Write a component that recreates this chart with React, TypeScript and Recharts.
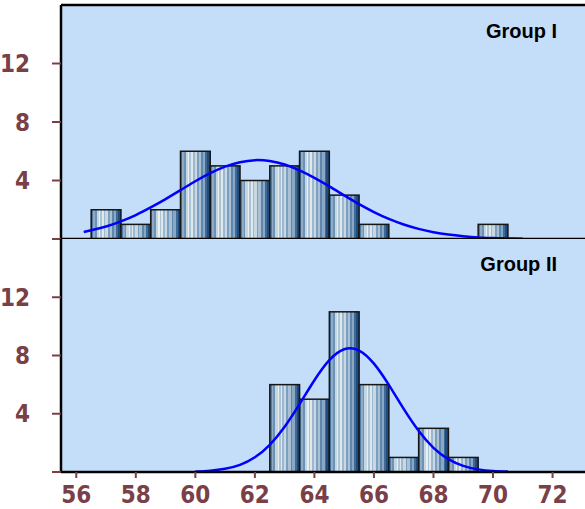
import React from 'react';
import { ComposedChart, Bar, Line, XAxis, YAxis, ReferenceArea, ReferenceLine } from 'recharts';

const bins = [56, 57, 58, 59, 60, 61, 62, 63, 64, 65, 66, 67, 68, 69, 70, 71, 72];
const groupICounts = [0, 2, 1, 2, 6, 5, 4, 5, 6, 3, 1, 0, 0, 0, 1, 0, 0];
const groupIICounts = [0, 0, 0, 0, 0, 0, 0, 6, 5, 11, 6, 1, 3, 1, 0, 0, 0];

// fitted curves
const curveIX = [56.25, 57, 57.5, 58, 58.5, 59, 59.5, 60, 60.5, 61, 61.5, 62, 62.5, 63, 63.5, 64, 64.5, 65, 65.5, 66, 66.5, 67, 67.5, 68, 68.5, 69, 69.5, 70, 70.5, 71];
const curveIY = [0.48, 0.86, 1.21, 1.64, 2.16, 2.73, 3.34, 3.95, 4.5, 4.95, 5.25, 5.39, 5.33, 5.09, 4.69, 4.18, 3.6, 2.98, 2.38, 1.84, 1.37, 0.99, 0.69, 0.46, 0.3, 0.19, 0.11, 0.07, 0.04, 0.02];
const curveIIX = [60, 60.5, 61, 61.5, 62, 62.5, 63, 63.5, 64, 64.5, 65, 65.5, 66, 66.5, 67, 67.5, 68, 68.5, 69, 69.5, 70, 70.5];
const curveIIY = [0.03, 0.09, 0.22, 0.49, 1.01, 1.87, 3.11, 4.66, 6.3, 7.68, 8.43, 8.34, 7.44, 5.98, 4.33, 2.83, 1.66, 0.88, 0.42, 0.18, 0.07, 0.03];

const xTicks = [56, 58, 60, 62, 64, 66, 68, 70, 72];
const yTicks = [0, 4, 8, 12];

const histI = bins.map((x, i) => ({ x, count: groupICounts[i] }));
const histII = bins.map((x, i) => ({ x, count: groupIICounts[i] }));
const fitI = curveIX.map((x, i) => ({ x, y: curveIY[i] }));
const fitII = curveIIX.map((x, i) => ({ x, y: curveIIY[i] }));

const X_DOMAIN: [number, number] = [55.487, 73.09];
const PX_PER_UNIT = 524 / (X_DOMAIN[1] - X_DOMAIN[0]);
const BG = '#c4defa';
const TICK_COLOR = '#7a4048';
const NARROW = "'Liberation Sans Narrow', 'Arial Narrow', 'DejaVu Sans Condensed', sans-serif";

const stripes = [
  ['#4f7aa3', 0, 0.06], ['#8eacc6', 0.06, 0.12], ['#6d91b4', 0.12, 0.18], ['#c4d6e2', 0.18, 0.26],
  ['#e8efee', 0.26, 0.3], ['#aac3d6', 0.3, 0.36], ['#dfe9ec', 0.36, 0.42], ['#9cb7cf', 0.42, 0.48],
  ['#c9d9e4', 0.48, 0.56], ['#7d9fbf', 0.56, 0.62], ['#a9c0d5', 0.62, 0.7], ['#5f87ae', 0.7, 0.76],
  ['#8aa8c4', 0.76, 0.84], ['#3d6a98', 0.84, 0.9], ['#1f4c7c', 0.9, 1],
] as const;

const StripeDefs = ({ id }: { id: string }) => (
  <defs>
    <linearGradient id={id} x1="0" y1="0" x2="1" y2="0">
      {stripes.flatMap(([c, a, b], i) => [
        <stop key={`a${i}`} offset={a} stopColor={c} />,
        <stop key={`b${i}`} offset={b} stopColor={c} />,
      ])}
    </linearGradient>
  </defs>
);

// bin is one unit wide: widen each bar around the centre recharts gives it
const binShape = (id: string) => (props: any) => {
  const { x, y, width, height } = props;
  if (!height || height <= 0) return <g />;
  const cx = x + width / 2;
  const w = PX_PER_UNIT;
  return (
    <rect x={cx - w / 2} y={y} width={w} height={height} fill={`url(#${id})`} stroke="#161616" strokeWidth={1.5} />
  );
};

const yTickStyle = { fill: TICK_COLOR, fontSize: 24, fontWeight: 700, fontFamily: NARROW };

const Panel = ({ data, fit, id, bottom }: { data: any[]; fit: any[]; id: string; bottom: boolean }) => (
  <ComposedChart
    width={585}
    height={bottom ? 270 : 240}
    data={data}
    margin={{ top: bottom ? 0 : 5, right: 0, bottom: 0, left: 0 }}
  >
    <StripeDefs id={id} />
    <ReferenceArea x1={X_DOMAIN[0]} x2={X_DOMAIN[1]} y1={0} y2={16} fill={BG} fillOpacity={1} stroke="none" />
    <XAxis
      dataKey="x"
      type="number"
      domain={X_DOMAIN}
      ticks={xTicks}
      allowDataOverflow
      height={bottom ? 37 : 1}
      tick={bottom ? { fill: TICK_COLOR, fontSize: 24, fontWeight: 700, fontFamily: NARROW } : false}
      tickLine={bottom ? { stroke: TICK_COLOR, strokeWidth: 2 } : false}
      tickSize={6}
      tickMargin={8}
      axisLine={{ stroke: '#000', strokeWidth: 2.5 }}
    />
    <YAxis
      type="number"
      domain={[0, 16]}
      ticks={yTicks}
      width={61}
      tick={yTickStyle}
      tickFormatter={(v: number) => (v === 0 ? '' : String(v))}
      tickLine={{ stroke: TICK_COLOR, strokeWidth: 2 }}
      tickSize={9}
      tickMargin={22}
      axisLine={{ stroke: '#000', strokeWidth: 2.5 }}
    />
    {!bottom && <ReferenceLine y={16} stroke="#000" strokeWidth={2.5} />}
    <Bar dataKey="count" shape={binShape(id)} isAnimationActive={false} />
    <Line data={fit} dataKey="y" type="natural" stroke="#0000ff" strokeWidth={2.5} dot={false} activeDot={false} isAnimationActive={false} />
  </ComposedChart>
);

const groupLabel: React.CSSProperties = {
  position: 'absolute',
  right: 28,
  fontFamily: "'Liberation Sans', Arial, sans-serif",
  fontWeight: 700,
  fontSize: 20,
  lineHeight: '20px',
  color: '#000',
};

export default function App() {
  return (
    <div style={{ position: 'absolute', left: 0, top: 0, width: 585, height: 509, background: '#fff', overflow: 'hidden' }}>
      <div style={{ position: 'absolute', left: 0, top: 0 }}>
        <Panel data={histI} fit={fitI} id="stripesI" bottom={false} />
      </div>
      <div style={{ position: 'absolute', left: 0, top: 239 }}>
        <Panel data={histII} fit={fitII} id="stripesII" bottom />
      </div>
      <div style={{ ...groupLabel, top: 21 }}>Group I</div>
      <div style={{ ...groupLabel, top: 254 }}>Group II</div>
    </div>
  );
}
